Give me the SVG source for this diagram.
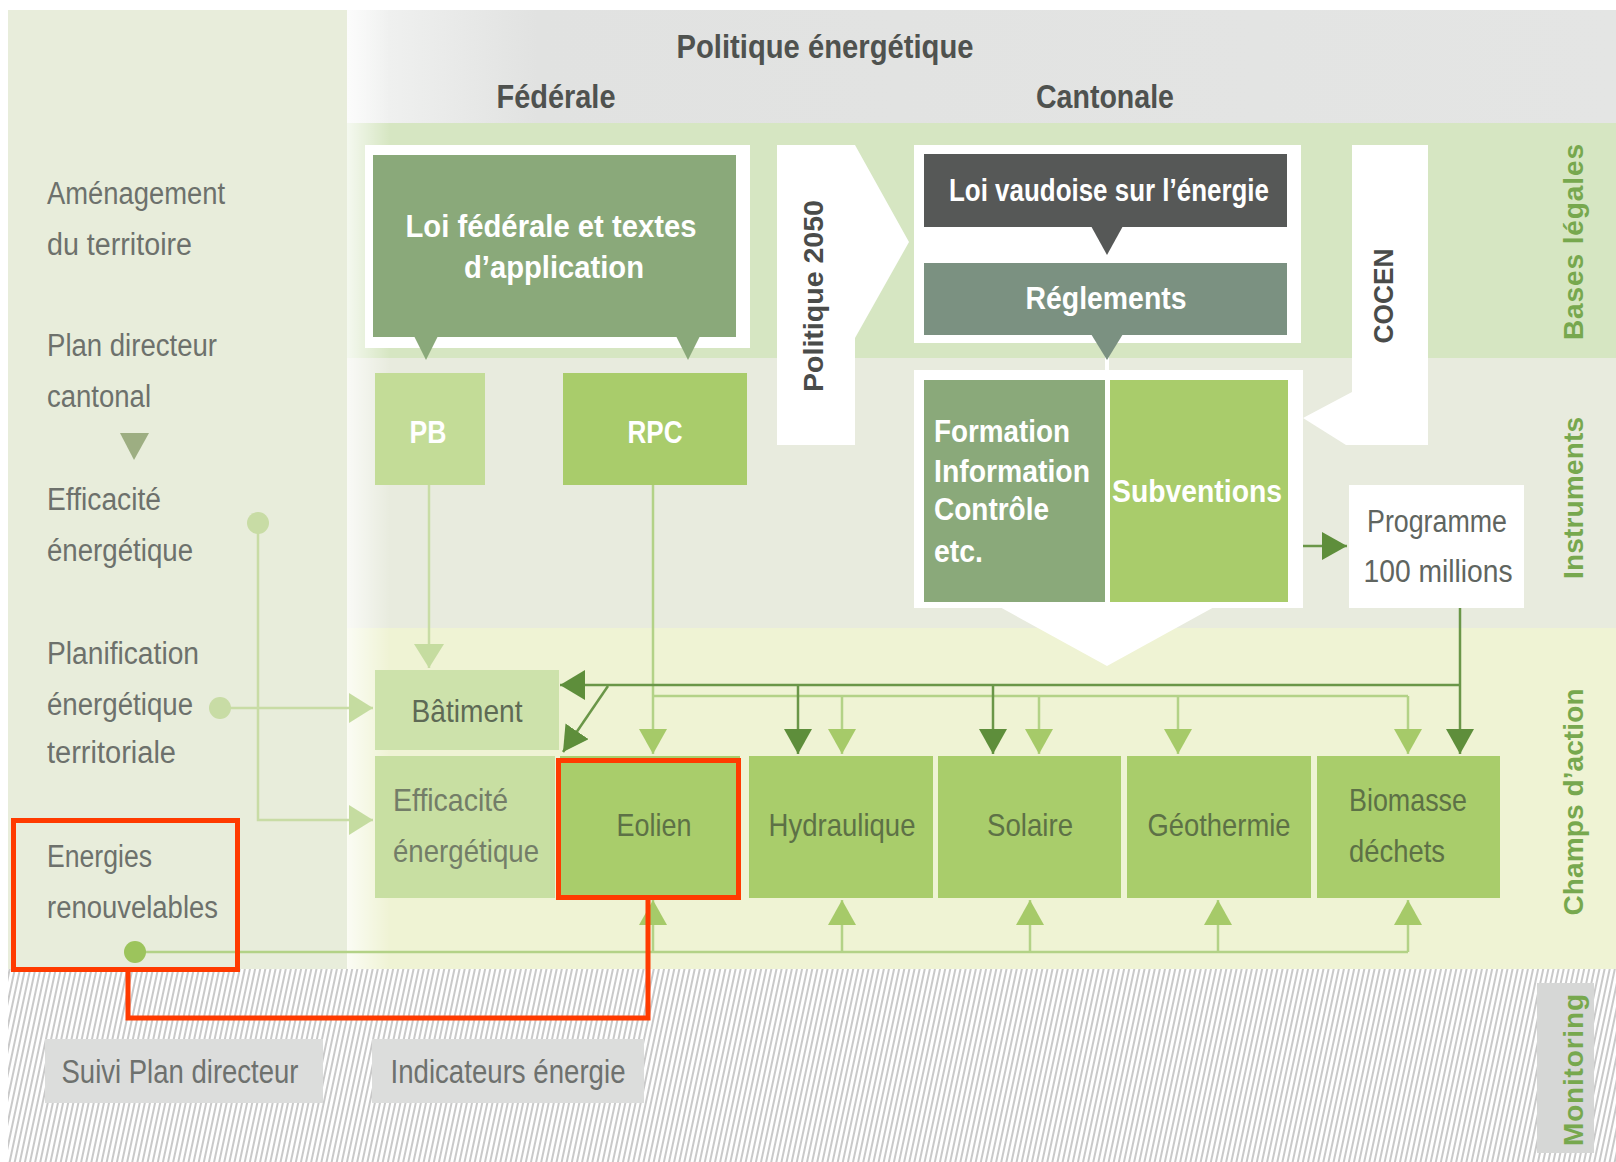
<svg xmlns="http://www.w3.org/2000/svg" width="1616" height="1162" viewBox="0 0 1616 1162">
<defs>
<style>
text{font-family:"Liberation Sans",Arial,sans-serif}
.ttl{font-weight:bold;fill:#4f524f;font-size:33px}
.wht{font-weight:bold;fill:#ffffff;font-size:32px}
.lft{fill:#6d716c;font-size:31px}
.box{fill:#5d7146;font-size:32px}
.vrt{font-weight:bold;fill:#77a84e;font-size:28px}
.drk{font-weight:bold;fill:#4a4c4a;font-size:28px}
.mon{fill:#6e716e;font-size:33px}
.lnD{stroke:#6a9648;stroke-width:2.5;fill:none}
.lnL{stroke:#b3d287;stroke-width:2.5;fill:none}
.lnP{stroke:#c8dca5;stroke-width:2.5;fill:none}
.red{stroke:#ff3b00;stroke-width:5;fill:none}
</style>
<marker id="aD" markerUnits="userSpaceOnUse" viewBox="0 0 25 28" markerWidth="25" markerHeight="28" refX="25" refY="14" orient="auto"><path d="M0,0 L25,14 L0,28 z" fill="#5e8e3b"/></marker>
<marker id="aDL" markerUnits="userSpaceOnUse" viewBox="0 0 25 30" markerWidth="25" markerHeight="30" refX="25" refY="15" orient="auto"><path d="M0,0 L25,15 L0,30 z" fill="#5e8e3b"/></marker>
<marker id="aL" markerUnits="userSpaceOnUse" viewBox="0 0 25 28" markerWidth="25" markerHeight="28" refX="25" refY="14" orient="auto"><path d="M0,0 L25,14 L0,28 z" fill="#a6ca69"/></marker>
<marker id="aP" markerUnits="userSpaceOnUse" viewBox="0 0 24 30" markerWidth="24" markerHeight="30" refX="24" refY="15" orient="auto"><path d="M0,0 L24,15 L0,30 z" fill="#c5dca0"/></marker>
<linearGradient id="gTop" x1="347" y1="0" x2="1616" y2="0" gradientUnits="userSpaceOnUse">
<stop offset="0" stop-color="#f3f4f3"/><stop offset="0.15" stop-color="#e1e2e1"/><stop offset="1" stop-color="#e4e5e4"/>
</linearGradient>
<linearGradient id="gEdge" x1="347" y1="0" x2="390" y2="0" gradientUnits="userSpaceOnUse">
<stop offset="0" stop-color="#ffffff" stop-opacity="0.75"/><stop offset="1" stop-color="#ffffff" stop-opacity="0"/>
</linearGradient>
<pattern id="hatch" width="5" height="10" patternUnits="userSpaceOnUse" patternTransform="rotate(12)">
<rect width="5" height="10" fill="#ffffff"/>
<line x1="1" y1="0" x2="1" y2="10" stroke="#b2b2b2" stroke-width="1.4"/>
</pattern>
</defs>

<rect width="1616" height="1162" fill="#ffffff"/>

<!-- background bands -->
<g id="bands">
<rect x="8" y="10" width="339" height="959" fill="#e8eddb"/>
<rect x="347" y="10" width="1269" height="113" fill="url(#gTop)"/>
<rect x="347" y="123" width="1269" height="235" fill="#d6e6c2"/>
<rect x="347" y="358" width="1269" height="270" fill="#e8ebde"/>
<rect x="347" y="628" width="1269" height="341" fill="#eff3d4"/>
<rect x="347" y="10" width="43" height="959" fill="url(#gEdge)"/>
<rect x="8" y="969" width="1608" height="193" fill="url(#hatch)"/>
</g>

<!-- headings -->
<g id="headings">
<text class="ttl" x="825" y="58" text-anchor="middle" textLength="297" lengthAdjust="spacingAndGlyphs">Politique énergétique</text>
<text class="ttl" x="556" y="108" text-anchor="middle" textLength="119" lengthAdjust="spacingAndGlyphs">Fédérale</text>
<text class="ttl" x="1105" y="108" text-anchor="middle" textLength="138" lengthAdjust="spacingAndGlyphs">Cantonale</text>
</g>

<!-- row labels on the right -->
<g id="row-labels">
<text class="vrt" transform="translate(1583,242) rotate(-90)" text-anchor="middle" textLength="196" lengthAdjust="spacing">Bases légales</text>
<text class="vrt" transform="translate(1583,498) rotate(-90)" text-anchor="middle" textLength="162" lengthAdjust="spacing">Instruments</text>
<text class="vrt" transform="translate(1583,802) rotate(-90)" text-anchor="middle" textLength="227" lengthAdjust="spacing">Champs d’action</text>
</g>
<g id="monitoring-label">
<rect x="1537" y="983" width="57" height="170" fill="#d6d7d6"/>
<text class="vrt" transform="translate(1583,1070) rotate(-90)" text-anchor="middle" textLength="152" lengthAdjust="spacing">Monitoring</text>
</g>

<!-- left panel labels -->
<g id="left-labels">
<text class="lft" x="47" y="204" textLength="178" lengthAdjust="spacingAndGlyphs">Aménagement</text>
<text class="lft" x="47" y="255" textLength="145" lengthAdjust="spacingAndGlyphs">du territoire</text>
<text class="lft" x="47" y="356" textLength="170" lengthAdjust="spacingAndGlyphs">Plan directeur</text>
<text class="lft" x="47" y="407" textLength="104" lengthAdjust="spacingAndGlyphs">cantonal</text>
<polygon points="120,433 149,433 134,460" fill="#9dae82"/>
<text class="lft" x="47" y="510" textLength="114" lengthAdjust="spacingAndGlyphs">Efficacité</text>
<text class="lft" x="47" y="561" textLength="146" lengthAdjust="spacingAndGlyphs">énergétique</text>
<text class="lft" x="47" y="664" textLength="152" lengthAdjust="spacingAndGlyphs">Planification</text>
<text class="lft" x="47" y="715" textLength="146" lengthAdjust="spacingAndGlyphs">énergétique</text>
<text class="lft" x="47" y="763" textLength="129" lengthAdjust="spacingAndGlyphs">territoriale</text>
<text class="lft" x="47" y="867" textLength="105" lengthAdjust="spacingAndGlyphs">Energies</text>
<text class="lft" x="47" y="918" textLength="171" lengthAdjust="spacingAndGlyphs">renouvelables</text>
</g>

<!-- federal -->
<g id="loi-federale">
<rect x="365" y="145" width="385" height="203" fill="#ffffff"/>
<rect x="373" y="155" width="363" height="182" fill="#8aa97a"/>
<polygon points="414,336 438,336 426,360" fill="#8aa97a"/>
<polygon points="676,336 700,336 688,360" fill="#8aa97a"/>
<text class="wht" x="551" y="237" text-anchor="middle" textLength="291" lengthAdjust="spacingAndGlyphs">Loi fédérale et textes</text>
<text class="wht" x="554" y="278" text-anchor="middle" textLength="180" lengthAdjust="spacingAndGlyphs">d’application</text>
</g>
<g id="pb">
<rect x="375" y="373" width="110" height="112" fill="#c3dc97"/>
<text class="wht" x="428" y="443" text-anchor="middle" textLength="37" lengthAdjust="spacingAndGlyphs">PB</text>
</g>
<g id="rpc">
<rect x="563" y="373" width="184" height="112" fill="#a9cc6b"/>
<text class="wht" x="655" y="443" text-anchor="middle" textLength="55" lengthAdjust="spacingAndGlyphs">RPC</text>
</g>

<g id="politique-2050">
<polygon points="777,145 855,145 909,242 855,338 855,445 777,445" fill="#ffffff"/>
<text class="drk" transform="translate(823,296) rotate(-90)" text-anchor="middle" textLength="192" lengthAdjust="spacingAndGlyphs">Politique 2050</text>
</g>

<!-- cantonal -->
<g id="cantonal-frame">
<rect x="914" y="145" width="387" height="198" fill="#ffffff"/>
<rect x="914" y="370" width="389" height="238" fill="#ffffff"/>
<polygon points="998,606 1216,606 1107,666" fill="#ffffff"/>
<rect x="1105" y="335" width="4" height="40" fill="#ffffff"/>
</g>
<g id="loi-vaudoise">
<rect x="924" y="154" width="363" height="73" fill="#565857"/>
<polygon points="1091,226 1123,226 1107,255" fill="#565857"/>
<text class="wht" x="1109" y="201" text-anchor="middle" textLength="320" lengthAdjust="spacingAndGlyphs">Loi vaudoise sur l’énergie</text>
</g>
<g id="reglements">
<rect x="924" y="263" width="363" height="72" fill="#7b9181"/>
<polygon points="1091,334 1123,334 1107,360" fill="#7b9181"/>
<text class="wht" x="1106" y="309" text-anchor="middle" textLength="161" lengthAdjust="spacingAndGlyphs">Réglements</text>
</g>
<g id="formation">
<rect x="924" y="380" width="181" height="222" fill="#8aa97a"/>
<text class="wht" x="934" y="442" textLength="136" lengthAdjust="spacingAndGlyphs">Formation</text>
<text class="wht" x="934" y="482" textLength="156" lengthAdjust="spacingAndGlyphs">Information</text>
<text class="wht" x="934" y="520" textLength="115" lengthAdjust="spacingAndGlyphs">Contrôle</text>
<text class="wht" x="934" y="562" textLength="49" lengthAdjust="spacingAndGlyphs">etc.</text>
</g>
<g id="subventions">
<rect x="1110" y="380" width="178" height="222" fill="#a9cc6b"/>
<text class="wht" x="1112" y="502" textLength="170" lengthAdjust="spacingAndGlyphs">Subventions</text>
</g>
<g id="cocen">
<polygon points="1352,145 1428,145 1428,445 1346,445 1303,418 1352,392" fill="#ffffff"/>
<text class="drk" transform="translate(1393,296) rotate(-90)" text-anchor="middle" textLength="95" lengthAdjust="spacingAndGlyphs">COCEN</text>
</g>
<g id="programme">
<rect x="1349" y="485" width="175" height="123" fill="#ffffff"/>
<text class="lft" x="1437" y="532" text-anchor="middle" textLength="140" lengthAdjust="spacingAndGlyphs" style="fill:#606560">Programme</text>
<text class="lft" x="1438" y="582" text-anchor="middle" textLength="149" lengthAdjust="spacingAndGlyphs" style="fill:#606560">100 millions</text>
</g>

<!-- champs d'action -->
<g id="batiment">
<rect x="375" y="670" width="184" height="80" fill="#cde2ab"/>
<text class="box" x="467" y="722" text-anchor="middle" textLength="111" lengthAdjust="spacingAndGlyphs" style="fill:#5e6a55">Bâtiment</text>
</g>
<g id="efficacite">
<rect x="375" y="756" width="180" height="142" fill="#c8dfa2"/>
<text class="box" x="393" y="811" textLength="115" lengthAdjust="spacingAndGlyphs" style="fill:#737d68">Efficacité</text>
<text class="box" x="393" y="862" textLength="146" lengthAdjust="spacingAndGlyphs" style="fill:#737d68">énergétique</text>
</g>
<g id="eolien">
<rect x="560" y="756" width="180" height="142" fill="#a9cd6b"/>
<text class="box" x="654" y="836" text-anchor="middle" textLength="75" lengthAdjust="spacingAndGlyphs">Eolien</text>
</g>
<g id="hydraulique">
<rect x="749" y="756" width="184" height="142" fill="#a9cd6b"/>
<text class="box" x="842" y="836" text-anchor="middle" textLength="147" lengthAdjust="spacingAndGlyphs">Hydraulique</text>
</g>
<g id="solaire">
<rect x="938" y="756" width="183" height="142" fill="#a9cd6b"/>
<text class="box" x="1030" y="836" text-anchor="middle" textLength="86" lengthAdjust="spacingAndGlyphs">Solaire</text>
</g>
<g id="geothermie">
<rect x="1127" y="756" width="184" height="142" fill="#a9cd6b"/>
<text class="box" x="1219" y="836" text-anchor="middle" textLength="143" lengthAdjust="spacingAndGlyphs">Géothermie</text>
</g>
<g id="biomasse">
<rect x="1317" y="756" width="183" height="142" fill="#a9cd6b"/>
<text class="box" x="1349" y="811" textLength="118" lengthAdjust="spacingAndGlyphs">Biomasse</text>
<text class="box" x="1349" y="862" textLength="96" lengthAdjust="spacingAndGlyphs">déchets</text>
</g>

<!-- monitoring -->
<g id="suivi">
<rect x="45" y="1039" width="278" height="64" fill="#dcdddc"/>
<text class="mon" x="180" y="1083" text-anchor="middle" textLength="237" lengthAdjust="spacingAndGlyphs">Suivi Plan directeur</text>
</g>
<g id="indicateurs">
<rect x="372" y="1039" width="272" height="64" fill="#dcdddc"/>
<text class="mon" x="508" y="1083" text-anchor="middle" textLength="235" lengthAdjust="spacingAndGlyphs">Indicateurs énergie</text>
</g>

<!-- connectors -->
<g id="connectors">
<polyline class="lnP" points="258,523 258,820 373,820" marker-end="url(#aP)"/>
<polyline class="lnP" points="220,708 373,708" marker-end="url(#aP)"/>
<circle cx="258" cy="523" r="11" fill="#c8dca5"/>
<circle cx="220" cy="708" r="11" fill="#c8dca5"/>

<line class="lnP" x1="429" y1="485" x2="429" y2="668" marker-end="url(#aP)"/>
<line class="lnL" x1="653" y1="485" x2="653" y2="754" marker-end="url(#aL)"/>

<line class="lnL" x1="653" y1="696" x2="1408" y2="696"/>
<line class="lnL" x1="842" y1="696" x2="842" y2="754" marker-end="url(#aL)"/>
<line class="lnL" x1="1039" y1="696" x2="1039" y2="754" marker-end="url(#aL)"/>
<line class="lnL" x1="1178" y1="696" x2="1178" y2="754" marker-end="url(#aL)"/>
<line class="lnL" x1="1408" y1="696" x2="1408" y2="754" marker-end="url(#aL)"/>

<line class="lnD" x1="1303" y1="546" x2="1347" y2="546" marker-end="url(#aD)"/>
<line class="lnD" x1="1460" y1="608" x2="1460" y2="754" marker-end="url(#aD)"/>
<line class="lnD" x1="1460" y1="685" x2="560" y2="685" marker-end="url(#aDL)"/>
<line class="lnD" x1="798" y1="685" x2="798" y2="754" marker-end="url(#aD)"/>
<line class="lnD" x1="993" y1="685" x2="993" y2="754" marker-end="url(#aD)"/>
<line class="lnD" x1="608" y1="686" x2="563" y2="752" marker-end="url(#aD)"/>

<line class="lnL" x1="135" y1="952" x2="1408" y2="952"/>
<line class="lnL" x1="653" y1="952" x2="653" y2="900" marker-end="url(#aL)"/>
<line class="lnL" x1="842" y1="952" x2="842" y2="900" marker-end="url(#aL)"/>
<line class="lnL" x1="1030" y1="952" x2="1030" y2="900" marker-end="url(#aL)"/>
<line class="lnL" x1="1218" y1="952" x2="1218" y2="900" marker-end="url(#aL)"/>
<line class="lnL" x1="1408" y1="952" x2="1408" y2="900" marker-end="url(#aL)"/>
<circle cx="135" cy="952" r="11" fill="#9cc45c"/>
</g>

<!-- red highlight -->
<g id="highlight">
<rect class="red" x="13.5" y="820.5" width="224" height="149"/>
<rect class="red" x="558.5" y="760.5" width="180" height="137"/>
<polyline class="red" points="128,970 128,1018 648,1018 648,900"/>
</g>
</svg>
